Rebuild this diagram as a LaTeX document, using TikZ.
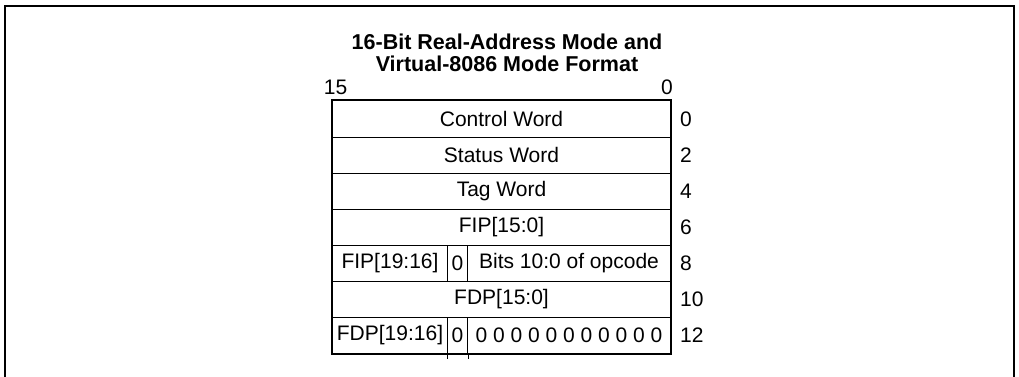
\documentclass[tikz,border=0pt]{standalone}
\usepackage{fontspec}
\setmainfont{Liberation Sans}
\begin{document}
\begin{tikzpicture}[x=1pt,y=-1pt,
  txt/.style={font=\fontsize{21}{24}\selectfont, inner sep=0pt},
  cell/.style={txt, draw, line width=1pt, minimum height=36pt, anchor=west},
  off/.style={txt, anchor=west},
  frame/.style={line width=2.2pt},
  tbl/.style={line width=2pt}]
\useasboundingbox (0,0) rectangle (1019,377);
\draw[frame] (5,377) -- (5,6) -- (1014,6) -- (1014,377);
\node[txt, font=\fontsize{21.5}{22.5}\selectfont\bfseries, align=center] (title) at (507,53)
  {16-Bit Real-Address Mode and\\Virtual-8086 Mode Format};
\node[txt] (b15) at (335.5,87) {15};
\node[txt] (b0) at (667,87) {0};
% rows
\node[cell, minimum width=338pt] (cw) at (332,119) {Control Word};
\node[cell, minimum width=338pt] (sw) at (332,155) {Status Word};
\node[cell, minimum width=338pt] (tw) at (332,191) {Tag Word};
\node[cell, minimum width=338pt] (fip) at (332,227) {FIP[15:0]};
\node[cell, minimum width=115pt] (fiphi) at (332,263) {FIP[19:16]};
\node[cell, minimum width=20pt] (fipz) at (447,263) {0};
\node[cell, minimum width=203pt] (opc) at (467,263) {Bits 10:0 of opcode};
\node[cell, minimum width=338pt] (fdp) at (332,299) {FDP[15:0]};
\node[cell, minimum width=115pt] (fdphi) at (332,335) {FDP[19:16]};
\node[cell, minimum width=20pt] (fdpz) at (447,335) {0};
\node[cell, minimum width=203pt] (zeros) at (467,335) {0 0 0 0 0 0 0 0 0 0 0};
\draw[tbl] (cw.north west) rectangle (zeros.south east);
\draw[line width=1pt] (fdpz.south west) -- ++(0,5);
\draw[line width=1pt] (fdpz.south east) -- ++(0,5);
% offsets
\node[off] (o0) at (680,119) {0};
\node[off] (o2) at (680,155) {2};
\node[off] (o4) at (680,191) {4};
\node[off] (o6) at (680,227) {6};
\node[off] (o8) at (680,263) {8};
\node[off] (o10) at (680,299) {10};
\node[off] (o12) at (680,335) {12};
\end{tikzpicture}
\end{document}
